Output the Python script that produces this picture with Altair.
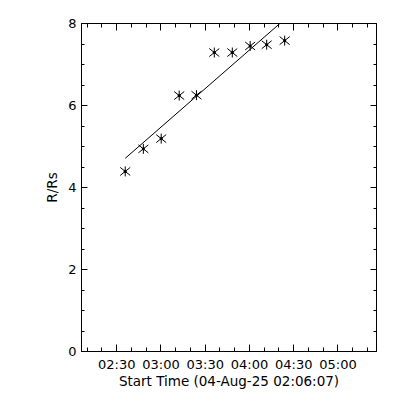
import altair as alt
import pandas as pd

# ---- data ----
# times in minutes after 00:00 UT on 04-Aug-25
times_min = [156.1, 168.4, 180.5, 192.7, 204.4, 216.5, 228.7, 240.8, 252.0, 264.2]
radii = [4.38, 4.93, 5.18, 6.23, 6.24, 7.28, 7.28, 7.44, 7.47, 7.57]

# linear fit line end points
fit_times = [156.1, 264.2]
fit_radii = [4.70, 8.09]

x_domain = [126.12, 326.12]
x_major = [150, 180, 210, 240, 270, 300]
x_labels = ["02:30", "03:00", "03:30", "04:00", "04:30", "05:00"]
x_minor = [130, 140, 150, 160, 170, 180, 190, 200, 210, 220, 230, 240,
           250, 260, 270, 280, 290, 300, 310, 320]
y_domain = [0, 8]
y_major = [0, 2, 4, 6, 8]
y_minor = [0, 0.5, 1, 1.5, 2, 2.5, 3, 3.5, 4, 4.5, 5, 5.5, 6, 6.5, 7, 7.5, 8]

x_title = "Start Time (04-Aug-25 02:06:07)"
y_title = "R/Rs"

FONT = "DejaVu Sans"

pts = pd.DataFrame({"t": times_min, "r": radii})
fit = pd.DataFrame({"t": fit_times, "r": fit_radii})

label_expr = " : ".join(
    f"datum.value == {v} ? '{l}'" for v, l in zip(x_major, x_labels)
) + " : ''"

xs = alt.Scale(domain=x_domain, nice=False, zero=False)
ys = alt.Scale(domain=y_domain, nice=False, zero=False)


def axis(orient, values, size, labels=False, title="", expr=None, lpad=5, tpad=2):
    kw = dict(orient=orient, values=values, tickSize=size, offset=-size,
              domain=False, grid=False, tickColor="black", tickWidth=1,
              labelFont=FONT, labelFontSize=13, labelColor="black",
              titleFont=FONT, titleFontSize=13.5, titleColor="black",
              titleFontWeight="normal", labels=labels, title=title,
              labelPadding=lpad, titlePadding=tpad)
    if expr is not None:
        kw["labelExpr"] = expr
    return alt.Axis(**kw)


star = "M0,-1L0,1M-1,-0.8L1,0.8M-1,0.8L1,-0.8"

base_pts = alt.Chart(pts)

layer_main = base_pts.mark_point(shape=star, size=100, filled=False,
                                 stroke="black", strokeWidth=1, opacity=1).encode(
    x=alt.X("t:Q", scale=xs,
            axis=axis("bottom", x_major, 7, labels=True, title=x_title,
                      expr=label_expr, lpad=7, tpad=3)),
    y=alt.Y("r:Q", scale=ys,
            axis=axis("left", y_major, 6, labels=True, title=y_title,
                      lpad=5, tpad=8)),
)

layer_dot = base_pts.mark_circle(size=10, color="black", opacity=1).encode(
    x=alt.X("t:Q", scale=xs, axis=axis("top", x_major, 7)),
    y=alt.Y("r:Q", scale=ys, axis=axis("right", y_major, 6)),
)

layer_fit = alt.Chart(fit).mark_line(color="black", strokeWidth=1, clip=True).encode(
    x=alt.X("t:Q", scale=xs, axis=axis("bottom", x_minor, 4)),
    y=alt.Y("r:Q", scale=ys, axis=axis("left", y_minor, 3)),
)

layer_ghost = base_pts.mark_point(opacity=0).encode(
    x=alt.X("t:Q", scale=xs, axis=axis("top", x_minor, 4)),
    y=alt.Y("r:Q", scale=ys, axis=axis("right", y_minor, 3)),
)

chart = alt.layer(layer_fit, layer_main, layer_dot, layer_ghost).resolve_axis(
    x="independent", y="independent"
).properties(
    width=295, height=328,
    padding={"left": 73, "top": 15, "right": 16, "bottom": 45},
    autosize=alt.AutoSizeParams(type="none"),
    background="white",
).configure_view(stroke="black", strokeWidth=1)

chart.save("out.html", embed_options={"renderer": "svg", "actions": False})
